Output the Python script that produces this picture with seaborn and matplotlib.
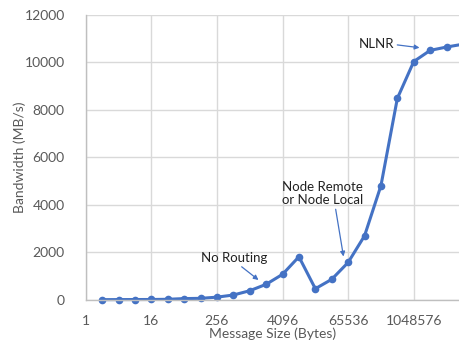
import numpy as np
import pandas as pd
import matplotlib
matplotlib.use("Agg")
import matplotlib.pyplot as plt
import seaborn as sns

# Message sizes (bytes) and measured bandwidth (MB/s)
msg_sizes = [2, 4, 8, 16, 32, 64, 128, 256, 512, 1024, 2048, 4096, 8192,
             16384, 32768, 65536, 131072, 262144, 524288, 1048576,
             2097152, 4194304, 8388608]
bandwidth = [15, 18, 20, 22, 30, 60, 70, 120, 210, 390, 660, 1080, 1820,
             475, 870, 1580, 2700, 4810, 8480, 10030, 10500, 10640, 10760]
x_ticks = [1, 16, 256, 4096, 65536, 1048576]
x_tick_labels = ["1", "16", "256", "4096", "65536", "1048576"]
y_ticks = [0, 2000, 4000, 6000, 8000, 10000, 12000]

df = pd.DataFrame({"size": msg_sizes, "bw": bandwidth})

sns.set_style("white")
plt.rcParams["font.family"] = ["Lato", "DejaVu Sans"]

fig = plt.figure(figsize=(4.6, 3.52), dpi=100)
ax = fig.add_axes([0.1863, 0.1477, 1.0 - 0.1863, 0.9582 - 0.1477])

blue = "#4472C4"
sns.lineplot(data=df, x="size", y="bw", ax=ax, color=blue, linewidth=2.2,
             marker="o", markersize=5.5, markeredgewidth=0, clip_on=False)

ax.set_xscale("log", base=2)
ax.set_xlim(1, 2 ** 22.82)
ax.set_ylim(0, 12000)
ax.set_xticks(x_ticks)
ax.set_xticklabels(x_tick_labels)
ax.set_yticks(y_ticks)
ax.xaxis.set_minor_locator(matplotlib.ticker.NullLocator())

grid_c = "#D9D9D9"
ax.grid(True, color=grid_c, linewidth=1.0)
ax.set_axisbelow(True)
for s in ["top", "right"]:
    ax.spines[s].set_visible(False)
ax.spines["left"].set_color("#BFBFBF")
ax.spines["bottom"].set_color("#BFBFBF")
ax.spines["left"].set_linewidth(1.0)
ax.spines["bottom"].set_linewidth(1.0)

tick_c = "#595959"
ax.tick_params(axis="both", length=0, labelsize=10, colors=tick_c)
ax.tick_params(axis="x", pad=11)
ax.tick_params(axis="y", pad=15)

ax.set_xlabel("Message Size (Bytes)", fontsize=10, color=tick_c, labelpad=0)
ax.set_ylabel("Bandwidth (MB/s)", fontsize=10, color=tick_c, labelpad=-1)

arrow = dict(arrowstyle="-|>", color=blue, lw=0.9, mutation_scale=7,
             shrinkA=0, shrinkB=0)
ann_kw = dict(fontsize=9.5, color="#222222", textcoords="figure pixels",
              xycoords="figure pixels")
H = 352
ax.annotate("No Routing", xy=(258.5, H - 280), xytext=(201, H - 257.5),
            ha="left", va="center", arrowprops=dict(arrow, relpos=(0.55, 0.0)),
            **ann_kw)
ax.annotate("Node Remote\nor Node Local", xy=(343.5, H - 256.5),
            xytext=(281.5, H - 193.5), ha="left", va="center",
            linespacing=1.1, arrowprops=dict(arrow, relpos=(0.66, 0.0)),
            **ann_kw)
ax.annotate("NLNR", xy=(419.5, H - 47.7), xytext=(358.5, H - 44.5),
            ha="left", va="center", arrowprops=dict(arrow, relpos=(1.0, 0.5)),
            **ann_kw)

fig.savefig("out.png", dpi=100)
